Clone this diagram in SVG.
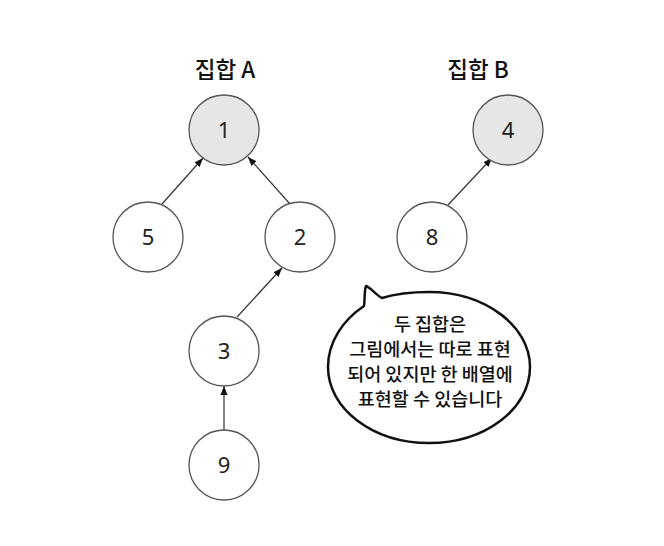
<svg xmlns="http://www.w3.org/2000/svg" width="664" height="546" viewBox="0 0 664 546">
<defs>
<marker id="ah" markerWidth="10" markerHeight="8" refX="9" refY="4" orient="auto" markerUnits="userSpaceOnUse">
<path d="M0,0.5 L9,4 L0,7.5 Z" fill="#111"/>
</marker>
</defs>
<style>
.node circle{fill:#fff;stroke:#555;stroke-width:1.3}
.root circle{fill:#e6e6e6}
.num{font-family:"Noto Sans","DejaVu Sans",sans-serif;font-size:22px;fill:#222;text-anchor:middle}
.title{font-family:"Noto Sans CJK KR","Noto Sans",sans-serif;font-size:22.5px;font-weight:500;fill:#111;text-anchor:middle}
.edge{stroke:#333;stroke-width:1.2;fill:none;marker-end:url(#ah)}
.bub{font-family:"Noto Sans CJK KR",sans-serif;font-size:18.5px;font-weight:500;fill:#111;text-anchor:middle}
</style>
<rect width="664" height="546" fill="#fff"/>
<text class="title" x="225" y="78">집합 A</text>
<text class="title" x="478" y="78">집합 B</text>
<g id="connectors">
<line class="edge" x1="162" y1="204" x2="203" y2="158"/>
<line class="edge" x1="290" y1="204" x2="248" y2="157"/>
<line class="edge" x1="237" y1="317" x2="282" y2="268"/>
<line class="edge" x1="224" y1="430" x2="224" y2="386"/>
<line class="edge" x1="448" y1="205" x2="492" y2="158"/>
</g>
<g id="n1" class="node root"><circle cx="224" cy="130" r="35"/><text class="num" x="224" y="138">1</text></g>
<g id="n5" class="node"><circle cx="148" cy="237" r="35"/><text class="num" x="148" y="245">5</text></g>
<g id="n2" class="node"><circle cx="300" cy="237" r="35"/><text class="num" x="300" y="245">2</text></g>
<g id="n3" class="node"><circle cx="224" cy="351" r="35"/><text class="num" x="224" y="359">3</text></g>
<g id="n9" class="node"><circle cx="224" cy="465" r="35"/><text class="num" x="224" y="473">9</text></g>
<g id="n4" class="node root"><circle cx="508" cy="130" r="35"/><text class="num" x="508" y="138">4</text></g>
<g id="n8" class="node"><circle cx="432" cy="237" r="35"/><text class="num" x="432" y="245">8</text></g>
<g id="bubble">
<path d="M382,298 C398,293 413,292 429,292 C485,292 530,326 530,367 C530,409 485,443 429,443 C373,443 328,409 328,367 C328,342 343,320 364,306 C365,300 364,292 366,286 C370,287 375,294 382,298 Z" fill="#fff" stroke="#111" stroke-width="2.5" stroke-linejoin="round"/>
<text class="bub" x="430" y="331">두 집합은</text>
<text class="bub" x="430" y="356">그림에서는 따로 표현</text>
<text class="bub" x="430" y="381">되어 있지만 한 배열에</text>
<text class="bub" x="430" y="406">표현할 수 있습니다</text>
</g>
</svg>
